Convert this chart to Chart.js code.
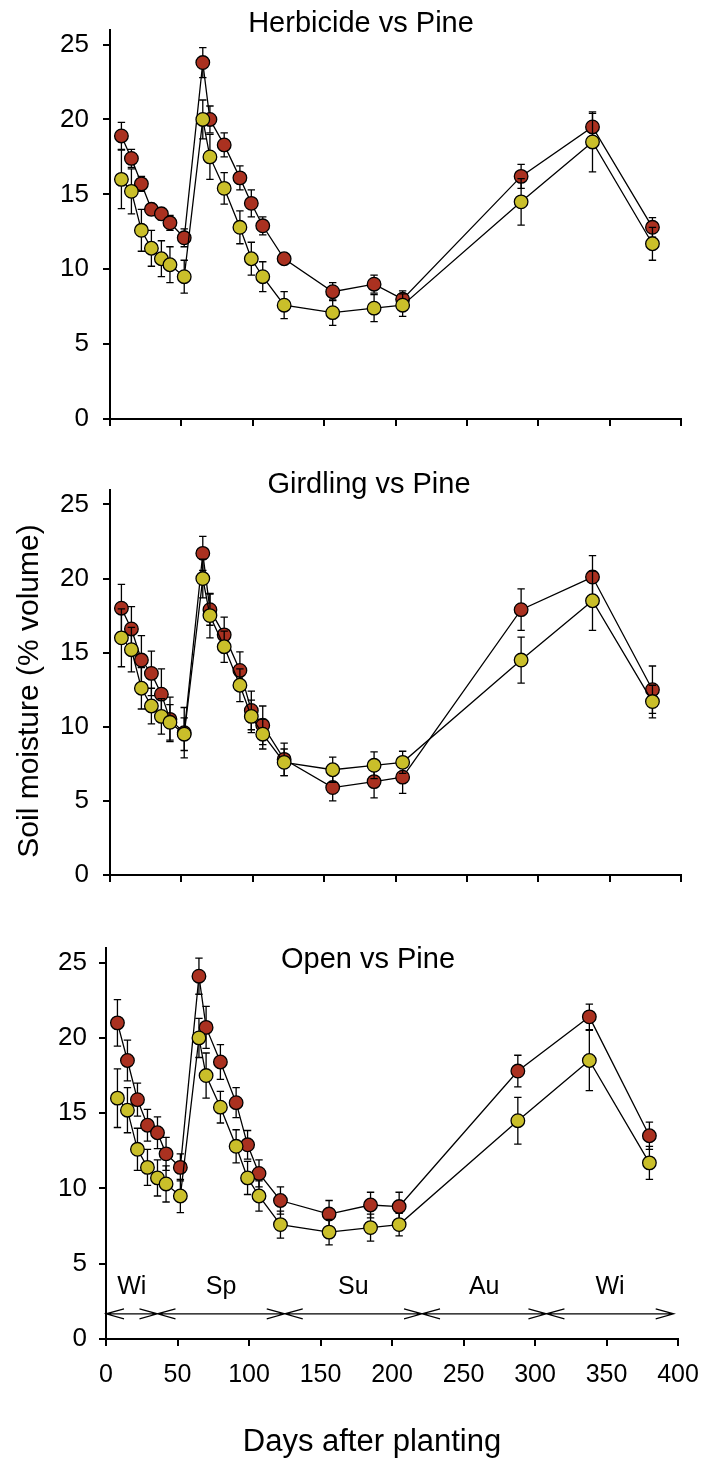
<!DOCTYPE html>
<html>
<head>
<meta charset="utf-8">
<title>Soil moisture vs days after planting</title>
<script src="https://cdn.jsdelivr.net/npm/chart.js@4.4.1/dist/chart.umd.min.js"></script>
<style>
  html, body { margin: 0; padding: 0; background: #fff; overflow: hidden; }
  #wrap { position: relative; width: 702px; height: 1461px; }
  #wrap canvas { position: absolute; left: 0; }
</style>
</head>
<body>
<div id="wrap">
  <canvas id="herbicide" width="702" height="460" style="top:0px"></canvas>
  <canvas id="girdling" width="702" height="460" style="top:460px"></canvas>
  <canvas id="open" width="702" height="541" style="top:920px"></canvas>
</div>
<script>
// ---------- data ----------
const days = [8, 15, 22, 29, 36, 42, 52, 65, 70, 80, 91, 99, 107, 122, 156, 185, 205, 288, 338, 380];

const yTicks = [0, 5, 10, 15, 20, 25];
const xTicks = [0, 50, 100, 150, 200, 250, 300, 350, 400];

// Pine (same reference series in all three panels)
const pine    = [16.0, 15.2, 12.6, 11.4, 10.7, 10.3, 9.5, 20.0, 17.5, 15.4, 12.8, 10.7, 9.5, 7.6, 7.1, 7.4, 7.6, 14.5, 18.5, 11.7];
const pineErr = [1.95, 1.5, 1.4, 1.2, 1.2, 1.2, 1.1, 1.3, 1.5, 1.05, 1.1, 1.1, 1.0, 0.9, 0.85, 0.9, 0.75, 1.55, 2.0, 1.1];

const herbicide    = [18.9, 17.4, 15.7, 14.0, 13.7, 13.1, 12.1, 23.8, 20.0, 18.3, 16.1, 14.4, 12.9, 10.7, 8.5, 9.0, 8.0, 16.2, 19.5, 12.8];
const herbicideErr = [0.9, 0.6, 0.5, 0.4, 0.4, 0.5, 0.6, 1.0, 0.9, 0.8, 0.8, 0.9, 0.6, 0.3, 0.6, 0.6, 0.55, 0.8, 0.9, 0.65];

const girdling    = [18.0, 16.6, 14.5, 13.6, 12.2, 10.5, 9.6, 21.7, 17.9, 16.2, 13.8, 11.1, 10.1, 7.8, 5.9, 6.3, 6.6, 17.9, 20.1, 12.5];
const girdlingErr = [1.6, 1.5, 1.65, 1.5, 1.7, 1.5, 1.7, 1.15, 1.05, 1.2, 1.25, 1.3, 1.3, 1.1, 0.9, 1.1, 1.1, 1.4, 1.45, 1.6];

const open    = [21.0, 18.5, 15.9, 14.2, 13.7, 12.3, 11.4, 24.1, 20.7, 18.4, 15.7, 12.9, 11.0, 9.2, 8.3, 8.9, 8.8, 17.8, 21.4, 13.5];
const openErr = [1.55, 1.35, 1.1, 1.05, 1.05, 1.1, 0.9, 1.2, 1.4, 1.15, 1.0, 0.95, 0.9, 0.9, 0.9, 0.85, 0.95, 1.05, 0.85, 0.9];

// seasons along the bottom panel (day boundaries)
const seasonBounds = [0, 36, 125, 221, 308, 397];
const seasonNames  = ['Wi', 'Sp', 'Su', 'Au', 'Wi'];
const seasonArrowY = 1.67;
const seasonLabelY = 3.45;

// ---------- look ----------
const RED = '#AA3120';
const YELLOW = '#CABF2A';
const FONT = "'Liberation Sans', Arial, sans-serif";

// ---------- plugins ----------
// error bars for each dataset, drawn just before that dataset's line/markers
const errorBars = {
  id: 'errorBars',
  beforeDatasetDraw(chart, args) {
    const ds = chart.data.datasets[args.index];
    if (!ds.err) return;
    const { x, y } = chart.scales;
    const ctx = chart.ctx;
    const cap = 3.7;
    ctx.save();
    ctx.strokeStyle = '#000';
    ctx.lineWidth = 1.3;
    ds.data.forEach((p, i) => {
      const e = ds.err[i];
      const px = x.getPixelForValue(p.x);
      const top = y.getPixelForValue(p.y + e);
      const bot = y.getPixelForValue(p.y - e);
      ctx.beginPath();
      ctx.moveTo(px, top); ctx.lineTo(px, bot);
      ctx.moveTo(px - cap, top); ctx.lineTo(px + cap, top);
      ctx.moveTo(px - cap, bot); ctx.lineTo(px + cap, bot);
      ctx.stroke();
    });
    ctx.restore();
  }
};

// panel title, shared axis titles, season arrows
const panelText = {
  id: 'panelText',
  afterDraw(chart, args, opts) {
    const ctx = chart.ctx;
    ctx.save();
    ctx.fillStyle = '#000';
    ctx.textBaseline = 'alphabetic';
    ctx.textAlign = 'center';

    ctx.font = `29px ${FONT}`;
    ctx.fillText(opts.title, opts.titleX, opts.titleY);

    if (opts.yTitle) {
      ctx.save();
      ctx.font = `30px ${FONT}`;
      ctx.translate(opts.yTitleX, opts.yTitleY);
      ctx.rotate(-Math.PI / 2);
      ctx.fillText(opts.yTitle, 0, 0);
      ctx.restore();
    }

    if (opts.xTitle) {
      ctx.font = `31px ${FONT}`;
      ctx.fillText(opts.xTitle, opts.xTitleX, opts.xTitleY);
    }

    if (opts.seasons) {
      const { x, y } = chart.scales;
      const ay = y.getPixelForValue(seasonArrowY);
      const L = 18, h = 5;
      ctx.strokeStyle = '#000';
      ctx.lineWidth = 1.2;
      ctx.beginPath();
      ctx.moveTo(x.getPixelForValue(seasonBounds[0]), ay);
      ctx.lineTo(x.getPixelForValue(seasonBounds[seasonBounds.length - 1]), ay);
      for (let i = 0; i < seasonNames.length; i++) {
        const xa = x.getPixelForValue(seasonBounds[i]);
        const xb = x.getPixelForValue(seasonBounds[i + 1]);
        ctx.moveTo(xa + L, ay - h); ctx.lineTo(xa, ay); ctx.lineTo(xa + L, ay + h);
        ctx.moveTo(xb - L, ay - h); ctx.lineTo(xb, ay); ctx.lineTo(xb - L, ay + h);
      }
      ctx.stroke();

      ctx.font = `25px ${FONT}`;
      ctx.textBaseline = 'middle';
      const ly = y.getPixelForValue(seasonLabelY);
      seasonNames.forEach((name, i) => {
        const cx = x.getPixelForValue((seasonBounds[i] + seasonBounds[i + 1]) / 2);
        ctx.fillText(name, cx, ly);
      });
    }
    ctx.restore();
  }
};

// ---------- panels ----------
const toPoints = (vals) => vals.map((v, i) => ({ x: days[i], y: v }));

function makePanel(id, vals, errs, cfg) {
  const series = (data, err, color) => ({
    data: toPoints(data),
    err,
    borderColor: '#000',
    borderWidth: 1.3,
    tension: 0,
    fill: false,
    pointRadius: 6.8,
    pointHoverRadius: 6.8,
    pointBorderWidth: 1.3,
    pointBorderColor: '#000',
    pointBackgroundColor: color
  });

  return new Chart(document.getElementById(id), {
    type: 'line',
    data: {
      // pine first so it ends up drawn on top
      datasets: [series(pine, pineErr, YELLOW), series(vals, errs, RED)]
    },
    options: {
      responsive: false,
      devicePixelRatio: 1,
      animation: false,
      events: [],
      layout: { padding: { left: 0, right: cfg.padRight, top: cfg.padTop, bottom: 0 } },
      scales: {
        x: {
          type: 'linear',
          min: 0,
          max: 400,
          afterBuildTicks: (s) => { s.ticks = xTicks.map(v => ({ value: v })); },
          afterFit: (s) => {
            s.height = cfg.xHeight;
            // labels fit inside the layout padding, keep the plot edges fixed
            s.paddingLeft = 0;
            s.paddingRight = 0;
          },
          border: { display: true, color: '#000', width: 2 },
          grid: { display: true, drawOnChartArea: false, drawTicks: true, tickLength: 7, color: '#000', lineWidth: 2 },
          ticks: { display: !!cfg.xLabels, color: '#000', font: { family: FONT, size: 25 }, padding: 14, maxRotation: 0, autoSkip: false }
        },
        y: {
          type: 'linear',
          min: 0,
          max: 26,
          afterBuildTicks: (s) => { s.ticks = yTicks.map(v => ({ value: v })); },
          afterFit: (s) => { s.width = cfg.yWidth; },
          border: { display: true, color: '#000', width: 2 },
          grid: { display: true, drawOnChartArea: false, drawTicks: true, tickLength: 7, color: '#000', lineWidth: 2 },
          ticks: { color: '#000', font: { family: FONT, size: 26 }, padding: cfg.yPad }
        }
      },
      plugins: {
        legend: { display: false },
        tooltip: { enabled: false },
        panelText: cfg.text
      }
    },
    plugins: [errorBars, panelText]
  });
}

makePanel('herbicide', herbicide, herbicideErr, {
  padTop: 18, padRight: 21, xHeight: 41, yWidth: 110, yPad: 14,
  text: { title: 'Herbicide vs Pine', titleX: 361, titleY: 32 }
});

makePanel('girdling', girdling, girdlingErr, {
  padTop: 15, padRight: 21, xHeight: 45, yWidth: 110, yPad: 14,
  text: {
    title: 'Girdling vs Pine', titleX: 369, titleY: 33,
    yTitle: 'Soil moisture (% volume)', yTitleX: 38, yTitleY: 231
  }
});

makePanel('open', open, openErr, {
  padTop: 18, padRight: 24, xHeight: 122, yWidth: 106, yPad: 12, xLabels: true,
  text: {
    title: 'Open vs Pine', titleX: 368, titleY: 48,
    xTitle: 'Days after planting', xTitleX: 372, xTitleY: 531,
    seasons: true
  }
});
</script>
</body>
</html>
